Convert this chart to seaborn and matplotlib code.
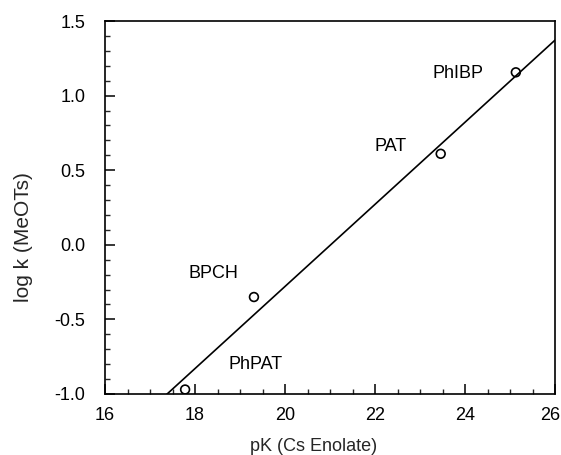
import numpy as np
import pandas as pd
import seaborn as sns
import matplotlib.pyplot as plt
import matplotlib.transforms as mtransforms
from matplotlib.ticker import MultipleLocator, FormatStrFormatter

# Substrates, Cs-enolate pK and log k with MeOTs
compounds = ["PhPAT", "BPCH", "PAT", "PhIBP"]
pk_values = [17.78, 19.31, 23.46, 25.13]
logk_values = [-0.97, -0.35, 0.61, 1.156]

# Label anchor points (left edge, vertical centre) in data units
label_x = [18.74, 17.85, 22.0, 23.27]
label_y = [-0.80, -0.19, 0.66, 1.151]

x_ticks = [16, 18, 20, 22, 24, 26]
y_ticks = [-1.0, -0.5, 0.0, 0.5, 1.0, 1.5]

df = pd.DataFrame({"compound": compounds, "pK": pk_values, "logk": logk_values})

sns.set_style("ticks")
plt.rcParams["font.family"] = ["Liberation Sans", "DejaVu Sans"]
plt.rcParams["axes.unicode_minus"] = False

fig = plt.figure(figsize=(5.61, 4.55), dpi=100)
ax = fig.add_axes([105 / 561, 1 - 394 / 455, 450 / 561, 373 / 455])

# Least-squares line through the four points
slope, intercept = np.polyfit(df["pK"], df["logk"], 1)
fit_x = np.array([x_ticks[0], x_ticks[-1]], dtype=float)
fit = pd.DataFrame({"pK": fit_x, "logk": slope * fit_x + intercept})
sns.lineplot(data=fit, x="pK", y="logk", ax=ax, color="black", linewidth=1.2)

sns.scatterplot(data=df, x="pK", y="logk", ax=ax, marker="o", s=40,
                facecolor="none", edgecolor="black", linewidth=1.2,
                clip_on=True, zorder=3)

for name, tx, ty in zip(compounds, label_x, label_y):
    ax.text(tx, ty, name, ha="left", va="center", fontsize=13, color="black")

ax.set_xlim(x_ticks[0], x_ticks[-1])
ax.set_ylim(y_ticks[0], y_ticks[-1])
ax.set_xticks(x_ticks)
ax.set_yticks(y_ticks)
ax.xaxis.set_minor_locator(MultipleLocator(0.5))
ax.yaxis.set_minor_locator(MultipleLocator(0.1))
ax.yaxis.set_major_formatter(FormatStrFormatter("%.1f"))

ax.tick_params(axis="both", which="major", direction="in", length=7, width=1.1,
               labelsize=13, colors="black", top=False, right=False)
ax.tick_params(axis="both", which="minor", direction="in", length=3.5, width=1.0,
               top=False, right=False)
ax.tick_params(axis="x", which="major", pad=9)
ax.tick_params(axis="y", which="major", pad=14)

# Nudge the last x tick label inward so it stays on the canvas
fig.canvas.draw()
last_label = ax.get_xticklabels()[-1]
last_label.set_transform(last_label.get_transform() +
                         mtransforms.ScaledTranslation(-5 / 100, 0, fig.dpi_scale_trans))

for side in ["left", "right", "top", "bottom"]:
    ax.spines[side].set_visible(True)
    ax.spines[side].set_linewidth(1.2)
    ax.spines[side].set_color("black")

ax.set_xlabel("pK (Cs Enolate)", fontsize=13)
ax.set_ylabel("log k (MeOTs)", fontsize=15)
ax.xaxis.set_label_coords(0.464, -0.118)
ax.yaxis.set_label_coords(-0.16, 0.42)

fig.savefig("out.png", dpi=100, facecolor="white")
